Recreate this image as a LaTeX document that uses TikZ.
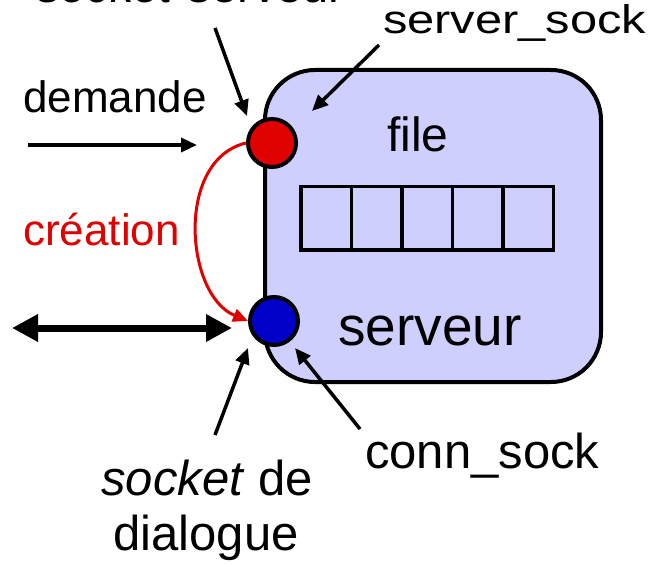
\documentclass[tikz,border=0pt]{standalone}
\usepackage{fontspec}
\setmainfont{Liberation Sans}
\usetikzlibrary{arrows.meta,positioning}
\definecolor{fileblue}{RGB}{207,207,255}
\definecolor{sockred}{RGB}{224,0,0}
\definecolor{sockblue}{RGB}{0,0,200}
\newcommand{\fsz}[1]{\fontsize{#1}{#1}\selectfont}

\begin{document}
\begin{tikzpicture}[x=1pt,y=-1pt,
		serv/.style={rectangle,draw=black,line width=4pt,fill=fileblue,rounded corners=50pt,minimum width=336pt,minimum height=312pt},
		sock/.style={circle,draw=black,line width=4pt,minimum size=48pt,inner sep=0pt},
		case/.style={rectangle,draw=black,line width=3.5pt,minimum width=50.5pt,minimum height=63.5pt,inner sep=0pt,outer sep=0pt},
		lbl/.style={anchor=base west,inner sep=0pt},
		fl/.style={-{Triangle[length=16pt,width=14pt]},line width=3.5pt}]
		\useasboundingbox (0,0) rectangle (656,564);
		\node[serv]  (box)  at (433,226) {};
		\foreach \i in {1,...,5}
			\node[case] (q\i) at ({326+50.5*(\i-1)},218.5) {};
		\node[sock,fill=sockred]  (srv)  at (272,143) {};
		\node[sock,fill=sockblue] (conn) at (274,321) {};
		
		\node[lbl,font=\fsz{47}] (top)   at (37,3)   {\textit{socket} serveur};
		\node[lbl,font=\fsz{40}] (ssock) at (383,34)  {\scalebox{1.22}[1]{server\_sock}};
		\node[lbl,font=\fsz{44}] (dem)   at (23,113)  {demande};
		\node[lbl,font=\fsz{44},text=sockred] (crea) at (23,245) {création};
		\node[anchor=base,inner sep=0pt,font=\fsz{48}] (file) at (418,152) {file};
		\node[lbl,font=\fsz{55}] (srvtxt) at (338,345) {serveur};
		\node[lbl,font=\fsz{49}] (csock) at (365,468) {conn\_sock};
		\node[anchor=base,inner sep=0pt,font=\fsz{49}] (dial1) at (207,495) {\textit{socket} de};
		\node[anchor=base,inner sep=0pt,font=\fsz{49}] (dial2) at (206,550) {dialogue};
		
		% bouts libres des fleches
		\coordinate (topfrom)  at (215,28);
		\coordinate (toptip)   at (247,116);
		\coordinate (ssfrom)   at (379,45);
		\coordinate (sstip)    at (312,111);
		\coordinate (demfrom)  at (28,145);
		\coordinate (demtip)   at (197,145);
		\coordinate (dblleft)  at (12,328);
		\coordinate (dblright) at (232,328);
		\coordinate (dialfrom) at (215,435);
		\coordinate (dialtip)  at (248,348);
		\coordinate (csfrom)   at (360,429);
		\coordinate (cstip)    at (295,348);
		
		\path[fl]
		(topfrom) edge (toptip)
		(ssfrom) edge (sstip)
		(demfrom) edge (demtip)
		(dialfrom) edge (dialtip)
		(csfrom) edge (cstip);
		\draw[{Triangle[length=26pt,width=26pt]}-{Triangle[length=26pt,width=26pt]},line width=7pt] (dblleft) -- (dblright);
		\draw[-{Triangle[length=15pt,width=13pt]},line width=3pt,draw=sockred]
		(srv.west) .. controls (175,160) and (185,295) .. (conn.west);
\end{tikzpicture}
\end{document}
